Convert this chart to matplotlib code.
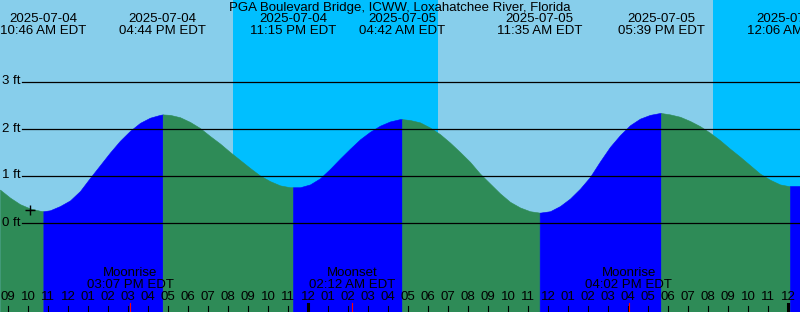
import matplotlib
matplotlib.use("Agg")
import matplotlib.pyplot as plt
import matplotlib.dates as mdates
import numpy as np
import pandas as pd

# tide curve every half hour, feet
curve_start = "2025-07-04 08:36"
curve_heights = [
    0.70, 0.53, 0.39, 0.30, 0.25, 0.26, 0.35, 0.47, 0.67, 0.95,
    1.22, 1.49, 1.74, 1.95, 2.12, 2.23, 2.29, 2.29, 2.24, 2.14,
    2.01, 1.84, 1.68, 1.50, 1.33, 1.16, 1.00, 0.88, 0.79, 0.75,
    0.75, 0.81, 0.94, 1.14, 1.36, 1.57, 1.77, 1.93, 2.06, 2.15,
    2.20, 2.18, 2.13, 2.02, 1.88, 1.70, 1.50, 1.29, 1.04, 0.83,
    0.62, 0.44, 0.32, 0.24, 0.21, 0.24, 0.35, 0.51, 0.72, 0.97,
    1.30, 1.61, 1.86, 2.07, 2.21, 2.29, 2.33, 2.30, 2.25, 2.16,
    2.05, 1.91, 1.75, 1.57, 1.40, 1.22, 1.04, 0.91, 0.81, 0.77,
    0.77,
]

# high / low tides
tide_times = ["2025-07-04 10:46", "2025-07-04 16:44", "2025-07-04 23:15",
              "2025-07-05 04:42", "2025-07-05 11:35", "2025-07-05 17:39",
              "2025-07-06 00:06"]
tide_heights = [0.24, 2.30, 0.75, 2.20, 0.21, 2.33, 0.77]

# darkness
sunset_times = ["2025-07-04 20:15", "2025-07-05 20:15"]
sunrise_times = ["2025-07-05 06:30", "2025-07-06 06:30"]

# moon events
moon_times = ["2025-07-04 15:07", "2025-07-05 02:12", "2025-07-05 16:02"]
moon_kinds = ["Moonrise", "Moonset", "Moonrise"]

now_time = "2025-07-04 10:06"
now_height = 0.26

level_lines = [0, 1, 2, 3]
title = "PGA Boulevard Bridge, ICWW, Loxahatchee River, Florida"

DAY = "#87CEEB"
NIGHT = "#00BFFF"
EBB = "#2E8B57"
FLOOD = "#0000FF"
W, H = 800, 312

plt.rcParams["font.family"] = ["Liberation Sans", "DejaVu Sans"]
fs = 9.5

fig = plt.figure(figsize=(W / 100, H / 100), dpi=100)
ax = fig.add_axes([0, 0, 1, 1])
ax.set_axis_off()
fig.patch.set_facecolor(DAY)

t0 = pd.Timestamp(curve_start)
curve_t = pd.date_range(t0, periods=len(curve_heights), freq="30min")
t_end = curve_t[-1]
ymin, ymax = -89.5 / 47, 222.5 / 47
ax.set_xlim(mdates.date2num(t0), mdates.date2num(t_end))
ax.set_ylim(ymin, ymax)


def py(pix):
    # pixel row from top -> axes fraction
    return 1 - pix / H


xt = ax.get_xaxis_transform()
yt = ax.get_yaxis_transform()

# background
ax.axvspan(mdates.date2num(t0), mdates.date2num(t_end), color=DAY, lw=0, zorder=0)
for s, r in zip(sunset_times, sunrise_times):
    ax.axvspan(mdates.date2num(pd.Timestamp(s)), mdates.date2num(pd.Timestamp(r)),
               color=NIGHT, lw=0, zorder=1)

# water, split at each high / low
ext_t = pd.to_datetime(tide_times)
pts = pd.Series(list(curve_heights) + tide_heights,
                index=list(curve_t) + list(ext_t)).sort_index()
pts = pts[~pts.index.duplicated()]
bounds = [t0] + list(ext_t) + [t_end]
for i in range(len(bounds) - 1):
    seg = pts[(pts.index >= bounds[i]) & (pts.index <= bounds[i + 1])]
    if i < len(tide_heights):
        nxt = tide_heights[i]
        other = tide_heights[i + 1] if i + 1 < len(tide_heights) else tide_heights[i - 1]
        rising = nxt > other
    else:
        rising = tide_heights[-1] < tide_heights[-2]
    c = FLOOD if rising else EBB
    ax.fill_between(mdates.date2num(seg.index), ymin, seg.values,
                    color=c, lw=0.4, ec=c, zorder=2)

# level lines
for lv in level_lines:
    ax.axhline(lv, xmin=22 / W, xmax=1, color="black", lw=0.9, zorder=3)
    ax.text(2 / W, lv, f"{lv} ft", transform=yt, ha="left", va="center",
            fontsize=fs, zorder=4)

ax.plot(mdates.date2num(pd.Timestamp(now_time)), now_height, marker="+",
        color="black", ms=7, mew=1, zorder=4)

# header
fig.text(0.5, py(7.5), title, ha="center", va="center", fontsize=fs)
for t in ext_t:
    x = mdates.date2num(t)
    ax.text(x, py(19.5), t.strftime("%Y-%m-%d"), transform=xt, ha="center",
            va="center", fontsize=fs, clip_on=False)
    ax.text(x, py(31.5), t.strftime("%I:%M %p EDT"), transform=xt, ha="center",
            va="center", fontsize=fs, clip_on=False)

# hour ticks
hours = pd.date_range("2025-07-04 09:00", t_end, freq="h")
for h in hours:
    x = mdates.date2num(h)
    if h.hour == 0:
        ax.plot([x, x], [py(304), 0], transform=xt, color="black", lw=2.2, zorder=5)
    else:
        ax.plot([x, x], [py(306), 0], transform=xt, color="black", lw=0.8, zorder=5)
    ax.text(x, py(297.5), h.strftime("%I"), transform=xt, ha="center",
            va="center", fontsize=fs, zorder=6)

for m, k in zip(moon_times, moon_kinds):
    t = pd.Timestamp(m)
    x = mdates.date2num(t)
    ax.plot([x, x], [py(303), 0], transform=xt, color="red", lw=0.8, zorder=5)
    ax.text(x, py(273.5), k, transform=xt, ha="center", va="center",
            fontsize=fs, zorder=6)
    ax.text(x, py(285.5), t.strftime("%I:%M %p EDT"), transform=xt,
            ha="center", va="center", fontsize=fs, zorder=6)

fig.savefig("out.png", dpi=100)
